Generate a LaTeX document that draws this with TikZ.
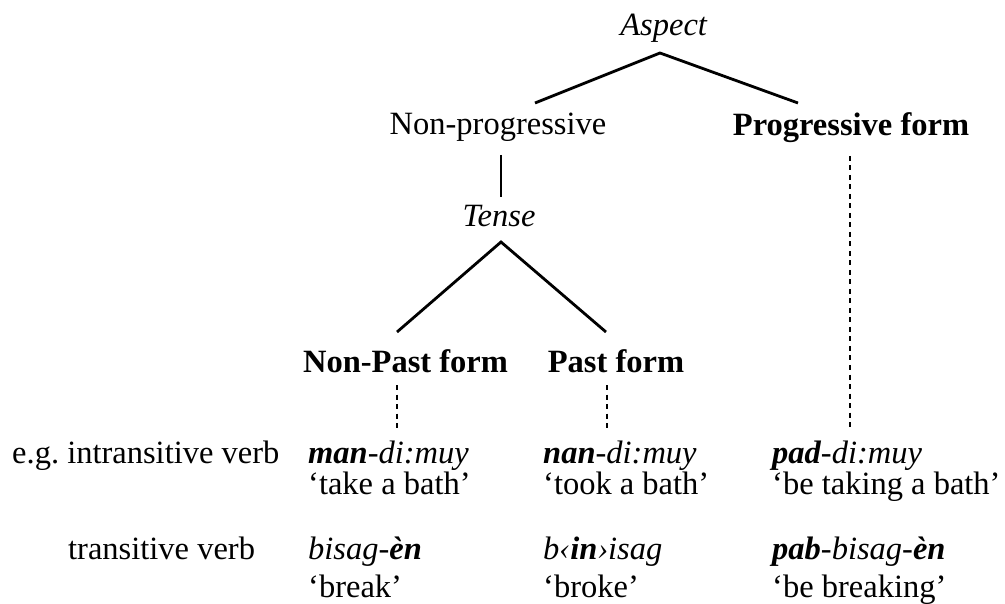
\documentclass[tikz,border=0pt]{standalone}
\usepackage{fontspec}
\setmainfont{Liberation Serif}
\tikzset{
  lab/.style={anchor=base, inner sep=0pt},
  ex/.style={anchor=base west, inner sep=0pt},
  branch/.style={line width=2.8pt},
  link/.style={line width=1.3pt, dash pattern=on 5pt off 4.5pt}
}
\begin{document}
\begin{tikzpicture}[x=1pt, y=-1pt, every node/.style={font=\fontsize{32.5}{34}\selectfont}]
\useasboundingbox (0,0) rectangle (1005,604);
\node (aspect) at (664, 36) [lab] {\textit{Aspect}};
\node (nonprog) at (498, 135) [lab] {Non-progressive};
\node (prog) at (851, 136) [lab] {\textbf{Progressive form}};
\node (tense) at (499, 227) [lab] {\textit{Tense}};
\node (nonpast) at (405.5, 373) [lab] {\textbf{Non-Past form}};
\node (past) at (616, 373) [lab] {\textbf{Past form}};

\coordinate (aspecttop) at (660, 53);
\coordinate (nonprogtop) at (535, 103);
\coordinate (progtop) at (798, 103);
\coordinate (nonprogfoot) at (501, 155);
\coordinate (tenseup) at (501, 197);
\coordinate (tensefoot) at (501, 242);
\coordinate (nonpasttop) at (397, 332);
\coordinate (pasttop) at (606, 332);
\coordinate (nonpastfoot) at (397, 385);
\coordinate (nonpastend) at (397, 431);
\coordinate (pastfoot) at (607, 385);
\coordinate (pastend) at (607, 431);
\coordinate (progfoot) at (850, 156);
\coordinate (progend) at (850, 431);

\draw[branch] (nonprogtop) -- (aspecttop) -- (progtop);
\draw[branch] (nonprogfoot) to (tenseup);
\draw[branch] (nonpasttop) -- (tensefoot) -- (pasttop);
\draw[link] (nonpastfoot) to (nonpastend);
\draw[link] (pastfoot) to (pastend);
\draw[link] (progfoot) to (progend);

\node (intr) at (12, 463) [ex] {e.g.\ intransitive verb};
\node (tran) at (68, 559) [ex] {transitive verb};

\node (manform) at (308, 463) [ex] {\textit{\textbf{man}-di:muy}};
\node (mangloss) at (308, 494) [ex] {‘take a bath’};
\node (nanform) at (543, 463) [ex] {\textit{\textbf{nan}-di:muy}};
\node (nangloss) at (543, 494) [ex] {‘took a bath’};
\node (padform) at (772, 463) [ex] {\textit{\textbf{pad}-di:muy}};
\node (padgloss) at (772, 494) [ex] {‘be taking a bath’};

\node (bisform) at (308, 559) [ex] {\textit{bisag-\textbf{èn}}};
\node (bisgloss) at (308, 597) [ex] {‘break’};
\node (binform) at (543, 559) [ex] {\textit{b‹\textbf{in}›isag}};
\node (bingloss) at (543, 597) [ex] {‘broke’};
\node (pabform) at (772, 559) [ex] {\textit{\textbf{pab}-bisag-\textbf{èn}}};
\node (pabgloss) at (772, 597) [ex] {‘be breaking’};
\end{tikzpicture}
\end{document}
